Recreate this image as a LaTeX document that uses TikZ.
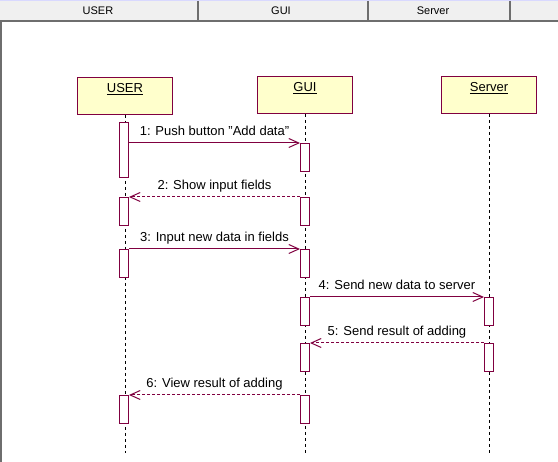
\documentclass[tikz,border=0pt]{standalone}
\usepackage{fontspec}
\setmainfont{Liberation Sans}
\usetikzlibrary{arrows.meta}
\definecolor{umlred}{RGB}{128,0,64}
\definecolor{umlfill}{RGB}{255,255,204}
\definecolor{hdrgray}{RGB}{240,240,240}
\definecolor{hdrline}{RGB}{110,110,110}
\tikzset{>={Straight Barb[length=10pt,width=9pt]}}
\tikzset{
  object/.style={draw=umlred,fill=umlfill,line width=1pt,minimum width=95pt,
    minimum height=37pt,anchor=north west,inner sep=0pt},
  title/.style={font=\fontsize{13}{15}\selectfont,anchor=north,yshift=-3pt},
  bar/.style={draw=umlred,fill=white,line width=1pt,minimum width=9pt,
    minimum height=28pt,anchor=north,inner sep=0pt},
  call/.style={umlred,line width=1pt,->},
  reply/.style={umlred,line width=1pt,->,dash pattern=on 3pt off 2pt},
  lifeline/.style={black,line width=1pt,dash pattern=on 3pt off 3pt},
  msg/.style={font=\fontsize{13}{15}\selectfont,anchor=base,midway,yshift=7pt,text=black},
  hdr/.style={font=\fontsize{11}{13}\selectfont}
}

\begin{document}
\begin{tikzpicture}[x=1pt,y=-1pt]
    \useasboundingbox (0,0) rectangle (558,462);
    \fill[white] (0,0) rectangle (558,462);

    % Draw header bar
    \fill[hdrgray] (0,0) rectangle (558,20);
    \draw[line width=1pt,blue!15] (0,0.5) -- (558,0.5);
    \draw[line width=2pt,hdrline] (0,21) -- (558,21);
    \draw[line width=2pt,hdrline] (1,21) -- (1,462);
    \draw[line width=2pt,hdrline] (198,1) -- (198,20);
    \draw[line width=2pt,hdrline] (368,1) -- (368,20);
    \draw[line width=2pt,hdrline] (510,1) -- (510,20);
    \node[hdr] (husr) at (98,11) {USER};
    \node[hdr] (hgui) at (281,11) {GUI};
    \node[hdr] (hsrv) at (433,11) {Server};

    % Draw objects
    \node[object,label={[title]north:\underline{USER}}] (usr) at (77,77) {};
    \node[object,label={[title]north:\underline{GUI}}] (gui) at (257,76) {};
    \node[object,label={[title]north:\underline{Server}}] (srv) at (441,76) {};

    % Draw lifelines
    \coordinate (usrend) at (usr.south |- 0,453);
    \coordinate (guiend) at (gui.south |- 0,453);
    \coordinate (srvend) at (srv.south |- 0,453);
    \draw[lifeline] (usr.south) -- (usrend);
    \draw[lifeline] (gui.south) -- (guiend);
    \draw[lifeline] (srv.south) -- (srvend);

    % Activation bars
    \node[bar,minimum height=55pt] (usr1) at (124,122) {};
    \node[bar] (gui1) at (305,143) {};
    \node[bar] (usr2) at (124,197) {};
    \node[bar] (gui2) at (305,197) {};
    \node[bar] (usr3) at (124,249) {};
    \node[bar] (gui3) at (305,249) {};
    \node[bar] (gui4) at (305,297) {};
    \node[bar] (srv4) at (489,297) {};
    \node[bar] (gui5) at (305,343) {};
    \node[bar] (srv5) at (489,343) {};
    \node[bar] (gui6) at (305,395) {};
    \node[bar] (usr6) at (124,395) {};

    % Messages
    \draw[call] (usr1.east |- gui1.north) -- (gui1.north west)
        node[msg] {1: Push button "Add data"};
    \draw[reply] (gui2.north west) -- (usr2.north east)
        node[msg] {2: Show input fields};
    \draw[call] (usr3.north east) -- (gui3.north west)
        node[msg] {3: Input new data in fields};
    \draw[call] (gui4.north east) -- (srv4.north west)
        node[msg] {4: Send new data to server};
    \draw[reply] (srv5.north west) -- (gui5.north east)
        node[msg] {5: Send result of adding};
    \draw[reply] (gui6.north west) -- (usr6.north east)
        node[msg] {6: View result of adding};
\end{tikzpicture}
\end{document}
